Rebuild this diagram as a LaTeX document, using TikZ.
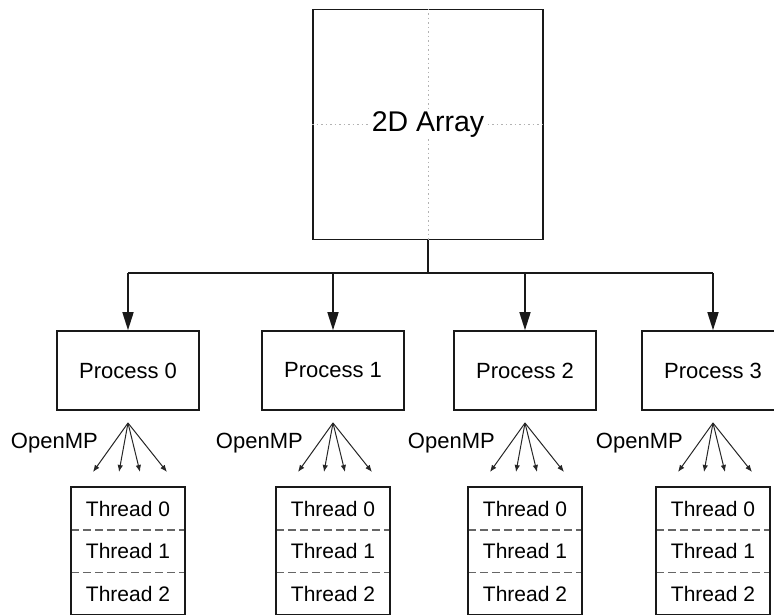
\documentclass[tikz,border=0pt]{standalone}
\usepackage{fontspec}
\setmainfont{Liberation Sans}
\usetikzlibrary{arrows.meta}

\tikzset{
  frame/.style={draw=black!90, line width=1.6pt},
  bigbox/.style={frame, minimum width=230pt, minimum height=230pt, inner sep=0pt},
  procbox/.style={frame, minimum width=142pt, minimum height=79pt, inner sep=0pt,
    font=\fontsize{22}{26}\selectfont},
  threadrow/.style={minimum width=114pt, minimum height=42.5pt, inner sep=0pt,
    font=\fontsize{21}{25}\selectfont},
  omplabel/.style={anchor=east, inner sep=0pt, font=\fontsize{22}{26}\selectfont},
  feed/.style={draw=black!90, line width=1.6pt},
  feedarrow/.style={feed, -{Triangle[length=18pt,width=11pt]}},
  fanarrow/.style={draw=black!85, line width=1pt, -{Latex[length=7pt,width=5.5pt]}},
  rowsplit/.style={draw=black!60, line width=1.2pt, dash pattern=on 8pt off 4pt},
  quarter/.style={draw=black!30, line width=0.9pt, dash pattern=on 1.5pt off 3pt},
}

\begin{document}
\begin{tikzpicture}[x=1pt, y=-1pt]
\useasboundingbox (0,0) rectangle (774,615);
\clip (0,0) rectangle (774,615);

% the distributed array with its quarter guides
\node[bigbox] (arr) at (428,124.5) {};
\draw[quarter] (arr.north) -- (arr.south);
\draw[quarter] (arr.west) -- (arr.east);
\node[fill=white, inner sep=0.5pt, font=\fontsize{28.5}{32}\selectfont] (arrlbl) at (arr.center) {2D Array};

% distribution bus
\coordinate (junc) at (428,273);
\draw[feed] (arr.south) -- (junc);

\foreach \i/\x in {0/128, 1/333, 2/525, 3/713} {
  \coordinate (bus\i) at (\x,273);
  \node[procbox] (proc\i) at (\x,370.5) {Process \i};
  \draw[feedarrow] (bus\i) -- (proc\i.north);

  % OpenMP fork
  \coordinate (fork\i) at (\x,423);
  \node[omplabel] (omp\i) at (\x-30,443) {OpenMP};
  \foreach \k/\dx in {a/-35, b/-9, c/12, d/39} {
    \coordinate (tip\i\k) at (\x+\dx,472);
    \draw[fanarrow] (fork\i) -- (tip\i\k);
  }

  % thread stack
  \node[threadrow] (thr\i a) at (\x,508.5) {Thread 0};
  \node[threadrow] (thr\i b) at (\x,551) {Thread 1};
  \node[threadrow] (thr\i c) at (\x,593.5) {Thread 2};
  \draw[rowsplit] (thr\i a.south west) -- (thr\i a.south east);
  \draw[rowsplit] (thr\i b.south west) -- (thr\i b.south east);
  \draw[frame] (thr\i a.north west) rectangle (thr\i c.south east);
}
\draw[feed] (bus0) -- (bus3);
\end{tikzpicture}
\end{document}
